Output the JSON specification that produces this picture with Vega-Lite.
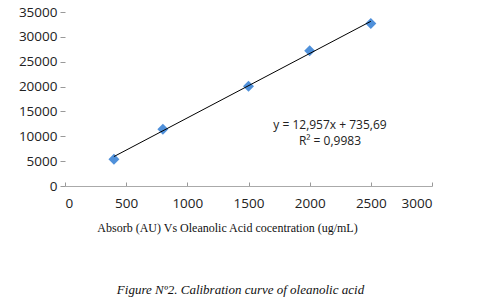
{
  "$schema": "https://vega.github.io/schema/vega-lite/v6.json",
  "width": 367,
  "height": 174,
  "autosize": {"type": "none"},
  "padding": {"left": 65, "top": 12, "right": 58, "bottom": 121},
  "background": "white",
  "config": {
    "view": {"stroke": null},
    "axis": {"labelFont": "Open Sans", "labelFontSize": 13.5, "labelColor": "#222", "grid": false, "domainColor": "#aaa", "tickColor": "#999", "labelOverlap": false, "format": "d"}
  },
  "title": {
    "text": "Figure Nº2. Calibration curve of oleanolic acid",
    "orient": "bottom",
    "font": "Liberation Serif",
    "fontSize": 13,
    "fontStyle": "italic",
    "fontWeight": "normal",
    "color": "#111",
    "offset": 50,
    "anchor": "middle",
    "dx": -8
  },
  "encoding": {
    "x": {"field": "conc", "type": "quantitative", "scale": {"domain": [0, 3000], "nice": false},
      "axis": {"values": [0, 500, 1000, 1500, 2000, 2500, 3000], "tickSize": -4, "labelPadding": 14, "domain": true,
        "title": "Absorb (AU) Vs Oleanolic Acid cocentration (ug/mL)", "titleFont": "Liberation Serif", "titleFontSize": 12, "titleFontWeight": "normal", "titleColor": "#111", "titlePadding": 13, "titleX": 162}},
    "y": {"field": "abs", "type": "quantitative", "scale": {"domain": [0, 35000], "nice": false},
      "axis": {"values": [0, 5000, 10000, 15000, 20000, 25000, 30000, 35000], "tickCount": 8, "labelOverlap": false, "domain": false, "tickSize": 5, "labelPadding": 3, "title": null}}
  },
  "layer": [
    {
      "data": {"values": [
        {"conc": 400, "abs": 5400},
        {"conc": 800, "abs": 11400},
        {"conc": 1500, "abs": 20050},
        {"conc": 2000, "abs": 27200},
        {"conc": 2500, "abs": 32700}
      ]},
      "mark": {"type": "point", "shape": "diamond", "filled": true, "size": 120, "color": "#4f90da", "opacity": 1}
    },
    {
      "data": {"values": [
        {"conc": 400, "abs": 5918.5},
        {"conc": 2500, "abs": 33128.2}
      ]},
      "mark": {"type": "line", "color": "#000", "strokeWidth": 1}
    },
    {
      "data": {"values": [
        {"conc": 2166, "abs": 12300, "label": "y = 12,957x + 735,69"},
        {"conc": 2166, "abs": 9100, "label": "R² = 0,9983"}
      ]},
      "mark": {"type": "text", "font": "Open Sans", "fontSize": 12, "color": "#222", "align": "center", "baseline": "middle"},
      "encoding": {
        "text": {"field": "label"}
      }
    }
  ]
}
